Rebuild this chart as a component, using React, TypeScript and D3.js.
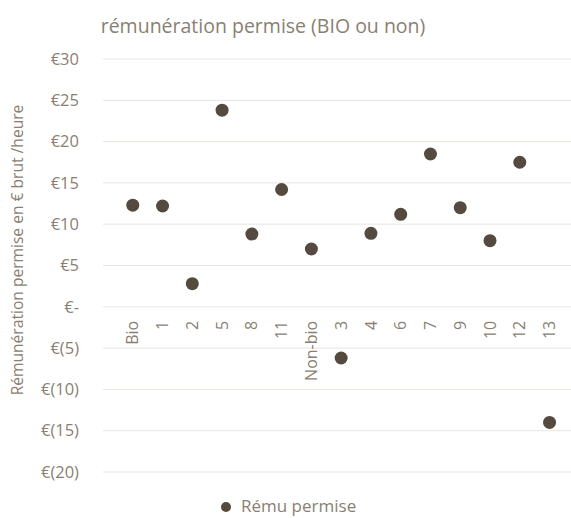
import React from "react";
import * as d3 from "d3";

const categories = ["Bio", "1", "2", "5", "8", "11", "Non-bio", "3", "4", "6", "7", "9", "10", "12", "13"];
const remuPermise = [12.3, 12.2, 2.8, 23.8, 8.8, 14.2, 7.0, -6.2, 8.9, 11.2, 18.5, 12.0, 8.0, 17.5, -14.0];
const yTicks = [30, 25, 20, 15, 10, 5, 0, -5, -10, -15, -20];
const title = "rémunération permise (BIO ou non)";
const yLabel = "Rémunération permise en € brut /heure";
const legendLabel = "Rému permise";

const W = 571;
const H = 518;
const FONT = "'Open Sans', sans-serif";
const TEXT = "#8a7f72";
const DOT = "#544a3f";
const GRID = "#e8e5e0";

function fmt(v: number) {
  if (v === 0) return "€-";
  if (v < 0) return `€(${Math.abs(v)})`;
  return `€${v}`;
}

export default function App() {
  const y = d3.scaleLinear().domain([-20, 30]).range([472, 59]);
  const x = d3.scaleLinear().domain([0, categories.length]).range([103, 103 + 29.77 * categories.length]);
  const xc = (i: number) => x(i + 1);
  return (
    <svg width={W} height={H} style={{ display: "block", position: "absolute", left: 0, top: 0 }} fontFamily={FONT}>
      <rect width={W} height={H} fill="#fff" />
      <text x={263} y={33} textAnchor="middle" fontSize={19.5} fill={TEXT}>{title}</text>
      {yTicks.map((t) => (
        <g key={t}>
          <line x1={103} x2={571} y1={y(t)} y2={y(t)} stroke={GRID} strokeWidth={1} />
          <text x={79} y={y(t)} dy="0.35em" textAnchor="end" fontSize={16.5} fill={TEXT}>{fmt(t)}</text>
        </g>
      ))}
      <text transform={`translate(23,250) rotate(-90)`} textAnchor="middle" fontSize={15.6} fill={TEXT}>{yLabel}</text>
      {categories.map((c, i) => (
        <text key={c} transform={`translate(${xc(i)},${y(0) + 14}) rotate(-90)`} textAnchor="end" dy="0.35em" fontSize={16} fill={TEXT}>{c}</text>
      ))}
      {remuPermise.map((v, i) => (
        <circle key={i} cx={xc(i)} cy={y(v)} r={6.5} fill={DOT} />
      ))}
      <circle cx={226} cy={507} r={5} fill={DOT} />
      <text x={241} y={512} fontSize={17} fill={TEXT}>{legendLabel}</text>
    </svg>
  );
}
